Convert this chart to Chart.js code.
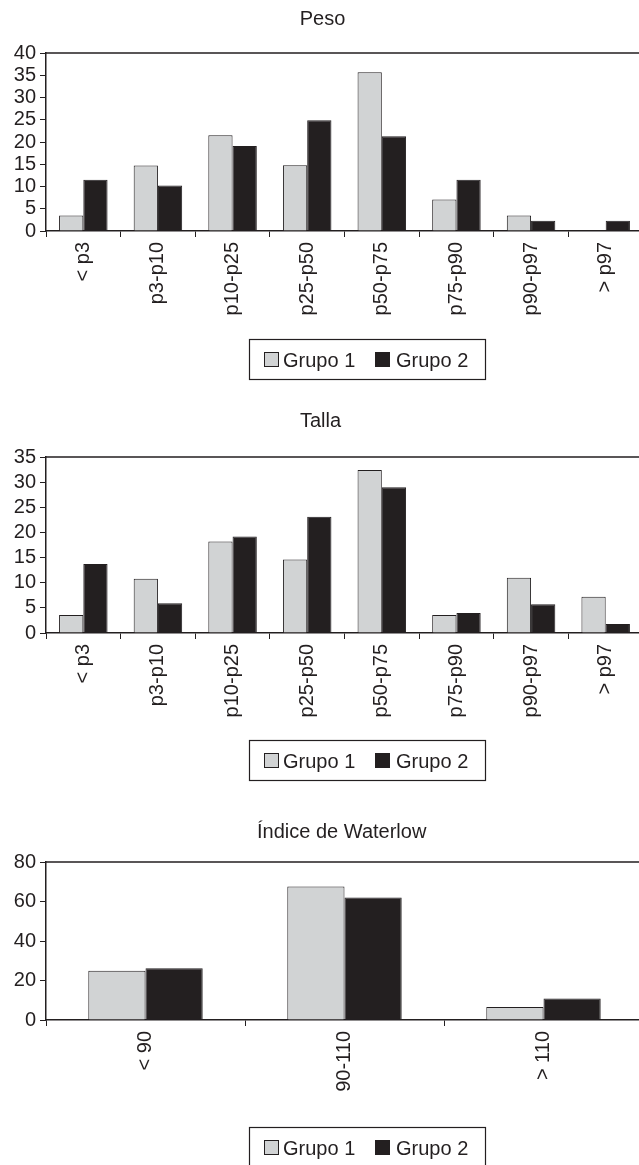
<!DOCTYPE html>
<html>
<head>
<meta charset="utf-8">
<script src="https://cdn.jsdelivr.net/npm/chart.js@4.4.1/dist/chart.umd.min.js"></script>
<style>
  html, body { margin:0; padding:0; background:#fff; }
  body { width:639px; height:1165px; overflow:hidden; position:relative; }
  canvas { position:absolute; left:0; }
</style>
</head>
<body>
<canvas id="peso" width="650" height="395" style="top:0px"></canvas>
<canvas id="talla" width="650" height="405" style="top:395px"></canvas>
<canvas id="waterlow" width="650" height="365" style="top:800px"></canvas>
<script>
// datos (%)
const categoriasPercentil = ["< p3","p3-p10","p10-p25","p25-p50","p50-p75","p75-p90","p90-p97","> p97"];
const pesoGrupo1 = [3.5, 14.7, 21.5, 14.8, 35.7, 7.1, 3.5, 0];
const pesoGrupo2 = [11.5, 10.2, 19.1, 24.9, 21.3, 11.5, 2.3, 2.3];
const tallaGrupo1 = [3.6, 10.8, 18.2, 14.6, 32.4, 3.6, 11.0, 7.2];
const tallaGrupo2 = [13.7, 5.9, 19.2, 23.1, 29.0, 4.0, 5.7, 1.8];
const categoriasWaterlow = ["< 90","90-110","> 110"];
const waterlowGrupo1 = [25.0, 67.6, 6.6];
const waterlowGrupo2 = [26.2, 62.0, 10.9];
const nombresGrupos = ["Grupo 1","Grupo 2"];

const fuente = "'Liberation Sans', Arial, Helvetica, sans-serif";
const tinta = "#231f20";
const gris = "#d1d3d4";

// marco superior/derecho, título y leyenda con recuadro
const decor = {
  id: "decor",
  afterDraw(chart, args, opts){
    const ctx = chart.ctx, a = chart.chartArea;
    ctx.save();
    ctx.strokeStyle = tinta;
    ctx.lineWidth = 1.5;
    ctx.beginPath();
    ctx.moveTo(a.left, a.top); ctx.lineTo(a.right, a.top); ctx.lineTo(a.right, a.bottom);
    ctx.stroke();

    ctx.fillStyle = tinta;
    ctx.font = "20px " + fuente;
    ctx.textAlign = "center";
    ctx.textBaseline = "alphabetic";
    ctx.fillText(opts.titulo, opts.tituloX, opts.tituloY);

    const ly = opts.leyendaY;
    ctx.lineWidth = 1.2;
    ctx.strokeRect(249.5, ly + 0.5, 236, 40);
    const cajaX = [264, 375], textoX = [283, 396];
    ctx.textAlign = "left";
    chart.data.datasets.forEach((ds, i) => {
      ctx.fillStyle = ds.backgroundColor;
      ctx.fillRect(cajaX[i], ly + 13, 15, 15);
      ctx.lineWidth = 1;
      ctx.strokeRect(cajaX[i] + 0.5, ly + 13.5, 14, 14);
      ctx.fillStyle = tinta;
      ctx.fillText(ds.label, textoX[i], ly + 28);
    });
    ctx.restore();
  }
};

function crearGrafico(id, etiquetas, g1, g2, maxY, paso, catPct, pad, deco){
  new Chart(document.getElementById(id).getContext("2d"), {
    type: "bar",
    data: {
      labels: etiquetas,
      datasets: [
        {label: nombresGrupos[0], data: g1, backgroundColor: gris, borderColor: tinta, borderWidth: 1},
        {label: nombresGrupos[1], data: g2, backgroundColor: tinta, borderColor: tinta, borderWidth: 1}
      ]
    },
    options: {
      responsive: false,
      animation: false,
      events: [],
      datasets: { bar: { barPercentage: 1, categoryPercentage: catPct } },
      layout: { padding: pad },
      plugins: { legend: {display:false}, tooltip: {enabled:false}, decor: deco },
      scales: {
        x: {
          grid: { drawOnChartArea:false, drawTicks:true, tickLength:6, color:tinta, lineWidth:1, offset:true },
          border: { color:tinta, width:1.5 },
          ticks: { color:tinta, font:{family:fuente, size:20}, minRotation:90, maxRotation:90, autoSkip:false, padding:5 },
          afterFit: s => { s.height = 100; }
        },
        y: {
          min: 0, max: maxY,
          grid: { drawOnChartArea:false, drawTicks:true, tickLength:6, color:tinta, lineWidth:1 },
          border: { color:tinta, width:1.5 },
          ticks: { stepSize: paso, autoSkip:false, color:tinta, font:{family:fuente, size:20, lineHeight:0.8}, padding:4 },
          afterFit: s => { s.width = 40; }
        }
      }
    },
    plugins: [decor]
  });
}

crearGrafico("peso", categoriasPercentil, pesoGrupo1, pesoGrupo2, 40, 5, 0.65,
  {top:53, bottom:64, left:6, right:7},
  {titulo:"Peso", tituloX:322.5, tituloY:25, leyendaY:339});

crearGrafico("talla", categoriasPercentil, tallaGrupo1, tallaGrupo2, 35, 5, 0.65,
  {top:62, bottom:67, left:6, right:7},
  {titulo:"Talla", tituloX:320.5, tituloY:31.5, leyendaY:345});

crearGrafico("waterlow", categoriasWaterlow, waterlowGrupo1, waterlowGrupo2, 80, 20, 0.575,
  {top:62, bottom:45, left:6, right:7},
  {titulo:"Índice de Waterlow", tituloX:341.7, tituloY:38.3, leyendaY:327});
</script>
</body>
</html>
